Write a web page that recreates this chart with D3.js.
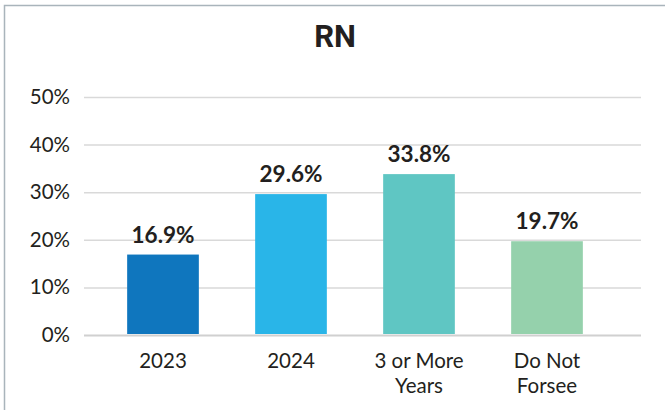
<!DOCTYPE html>
<html>
<head>
<meta charset="utf-8">
<script src="https://cdn.jsdelivr.net/npm/d3@7"></script>
<style>
  html, body { margin: 0; padding: 0; background: #fff; }
  svg { display: block; }
</style>
</head>
<body>
<svg id="chart" width="665" height="410"></svg>
<script>
const title = "RN";
const categories = [["2023"], ["2024"], ["3 or More", "Years"], ["Do Not", "Forsee"]];
const values = [16.9, 29.6, 33.8, 19.7];
const colors = ["#0f76be", "#29b5e8", "#5fc6c3", "#95d1ac"];
const yTicks = [0, 10, 20, 30, 40, 50];

const svg = d3.select("#chart");
const W = 665, H = 410;

// outer frame (only top and left visible)
svg.append("rect")
  .attr("x", 4.5).attr("y", 5.5)
  .attr("width", W + 20).attr("height", H + 20)
  .attr("fill", "none").attr("stroke", "#a9b4bb").attr("stroke-width", 1.5);

const keys = categories.map(c => c.join(" "));
const x = d3.scaleBand().domain(keys).range([99, 611]).paddingInner(0.44).paddingOuter(0.22);
const y = d3.scaleLinear().domain([0, 50]).range([335, 97]);

// gridlines
const yAxis = d3.axisLeft(y).tickValues(yTicks).tickFormat(d => d + "%").tickSize(0).tickPadding(14);
const gy = svg.append("g").attr("transform", "translate(84,0)").call(yAxis);
gy.select(".domain").remove();
gy.selectAll(".tick line")
  .attr("x2", 641 - 84)
  .attr("stroke", d => d === 0 ? "#d0d0d0" : "#d9d9d9")
  .attr("stroke-width", d => d === 0 ? 2 : 1.5);
gy.selectAll(".tick text")
  .attr("x", -14)
  .attr("fill", "#231f20")
  .style("font-family", "Lato, 'Open Sans', sans-serif")
  .style("font-size", "20.5px");

// bars
svg.append("g").selectAll("rect")
  .data(values)
  .join("rect")
  .attr("x", (d, i) => x(keys[i]))
  .attr("width", x.bandwidth())
  .attr("y", d => y(d))
  .attr("height", d => y(0) - 1 - y(d))
  .attr("fill", (d, i) => colors[i]);

// value labels
svg.append("g").selectAll("text")
  .data(values)
  .join("text")
  .attr("x", (d, i) => x(keys[i]) + x.bandwidth() / 2)
  .attr("y", d => y(d) - 12)
  .attr("text-anchor", "middle")
  .attr("fill", "#231f20")
  .style("font-family", "Lato, 'Open Sans', sans-serif")
  .style("font-weight", "bold")
  .style("font-size", "22.5px")
  .text(d => d.toFixed(1) + "%");

// x axis labels
const xl = svg.append("g").selectAll("text")
  .data(categories)
  .join("text")
  .attr("x", (d, i) => x(keys[i]) + x.bandwidth() / 2)
  .attr("y", 368)
  .attr("text-anchor", "middle")
  .attr("fill", "#231f20")
  .style("font-family", "Lato, 'Open Sans', sans-serif")
  .style("font-size", "20.5px");
xl.selectAll("tspan")
  .data(d => d)
  .join("tspan")
  .attr("x", function() { return this.parentNode.getAttribute("x"); })
  .attr("dy", (d, i) => i === 0 ? 0 : 25)
  .text(d => d);

// title
svg.append("text")
  .attr("x", 335).attr("y", 47)
  .attr("text-anchor", "middle")
  .attr("fill", "#231f20")
  .style("font-family", "Roboto, sans-serif")
  .style("font-weight", "bold")
  .style("font-size", "31px")
  .text(title);
</script>
</body>
</html>
